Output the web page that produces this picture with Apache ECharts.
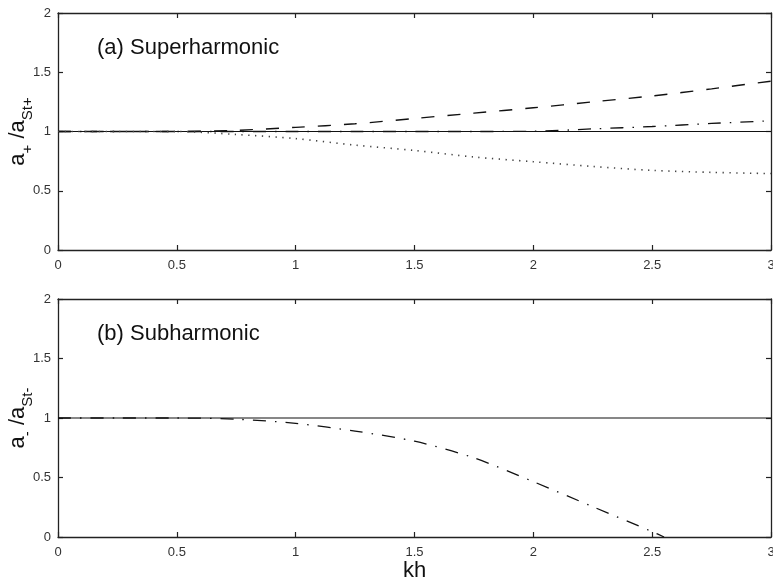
<!DOCTYPE html>
<html>
<head>
<meta charset="utf-8">
<script src="https://cdn.jsdelivr.net/npm/echarts@6/dist/echarts.min.js"></script>
<style>
  html, body { margin: 0; padding: 0; background: #fff; }
  #chart { width: 773px; height: 585px; }
</style>
</head>
<body>
<div id="chart"></div>
<script>
// kh samples, top panel
const kh = [0, 0.25, 0.5, 0.75, 1, 1.25, 1.5, 1.75, 2, 2.25, 2.5, 2.75, 3]
const superSolid = [1, 1, 1, 1, 1, 1, 1, 1, 1, 1, 1, 1, 1]
const superDashed = [1, 1, 1, 1.01, 1.035, 1.065, 1.11, 1.155, 1.2, 1.25, 1.3, 1.36, 1.425]
const superDashDot = [1, 1, 1, 1, 1, 1, 1, 1, 1.002, 1.022, 1.042, 1.068, 1.09]
const superDotted = [1, 1, 1, 0.975, 0.94, 0.885, 0.84, 0.785, 0.745, 0.705, 0.672, 0.655, 0.645]

// bottom panel
const khSub = [0, 0.25, 0.5, 0.75, 1, 1.25, 1.5, 1.75, 2, 2.25, 2.5, 2.55]
const subDashDot = [1, 1, 1, 0.99, 0.955, 0.89, 0.805, 0.665, 0.465, 0.255, 0.045, 0]
const subSolid = [1, 1]
const subSolidX = [0, 3]

const xTicks = ['0', '0.5', '1', '1.5', '2', '2.5', '3']
const yTicks = ['0', '0.5', '1', '1.5', '2']

const font = 'Liberation Sans, Arial, Helvetica, sans-serif'
const frame = '#222'

function pairs(xs, ys) {
  return xs.map((x, i) => [x, ys[i]])
}

function xAxis(gridIndex, position, showLabel, extra) {
  return Object.assign({
    type: 'value',
    gridIndex: gridIndex,
    position: position,
    min: 0,
    max: 3,
    interval: 0.5,
    axisLine: { show: true, onZero: false, lineStyle: { color: frame, width: 1.3 } },
    axisTick: { show: true, inside: true, length: 5, lineStyle: { color: frame, width: 1.2 } },
    axisLabel: {
      show: showLabel,
      margin: 9,
      color: '#333',
      fontFamily: font,
      fontSize: 13,
      formatter: v => xTicks[Math.round(v / 0.5)]
    },
    splitLine: { show: false }
  }, extra || {})
}

function yAxis(gridIndex, position, showLabel, extra) {
  return Object.assign({
    type: 'value',
    gridIndex: gridIndex,
    position: position,
    min: 0,
    max: 2,
    interval: 0.5,
    axisLine: { show: true, onZero: false, lineStyle: { color: frame, width: 1.3 } },
    axisTick: { show: true, inside: true, length: 5, lineStyle: { color: frame, width: 1.2 } },
    axisLabel: {
      show: showLabel,
      margin: 7,
      color: '#333',
      fontFamily: font,
      fontSize: 13,
      formatter: v => yTicks[Math.round(v / 0.5)]
    },
    splitLine: { show: false }
  }, extra || {})
}

// subscripts sit low inside a tall line box
const nameRich = {
  m: { fontSize: 22, fontFamily: font, color: '#111', lineHeight: 34 },
  s: { fontSize: 15, fontFamily: font, color: '#111', lineHeight: 6, verticalAlign: 'bottom' }
}

const chart = echarts.init(document.getElementById('chart'))

chart.setOption({
  animation: false,
  backgroundColor: '#fff',
  grid: [
    { left: 58, top: 13, width: 713, height: 237, containLabel: false, outerBoundsMode: 'none' },
    { left: 58, top: 299, width: 713, height: 238, containLabel: false, outerBoundsMode: 'none' }
  ],
  title: [
    { text: '(a) Superharmonic', left: 92, top: 32, textStyle: { fontFamily: font, fontSize: 22, fontWeight: 'normal', color: '#111' } },
    { text: '(b) Subharmonic', left: 92, top: 318, textStyle: { fontFamily: font, fontSize: 22, fontWeight: 'normal', color: '#111' } }
  ],
  xAxis: [
    xAxis(0, 'bottom', true),
    xAxis(0, 'top', false),
    xAxis(1, 'bottom', true, {
      name: 'kh',
      nameLocation: 'middle',
      nameGap: 23,
      nameMoveOverlap: false,
      nameTextStyle: { fontFamily: font, fontSize: 22, color: '#111' }
    }),
    xAxis(1, 'top', false)
  ],
  yAxis: [
    yAxis(0, 'left', true, {
      name: '{m|a}{s|+}{m| /a}{s|St+}',
      nameLocation: 'middle',
      nameRotate: 90,
      nameGap: 23,
      nameMoveOverlap: false,
      nameTextStyle: { rich: nameRich }
    }),
    yAxis(0, 'right', false),
    yAxis(1, 'left', true, {
      name: '{m|a}{s|-}{m| /a}{s|St-}',
      nameLocation: 'middle',
      nameRotate: 90,
      nameGap: 23,
      nameMoveOverlap: false,
      nameTextStyle: { rich: nameRich }
    }),
    yAxis(1, 'right', false)
  ],
  series: [
    {
      type: 'line', xAxisIndex: 0, yAxisIndex: 0, showSymbol: false,
      data: pairs(kh, superSolid),
      lineStyle: { color: '#111', width: 1.2 }
    },
    {
      type: 'line', xAxisIndex: 0, yAxisIndex: 0, showSymbol: false, smooth: 0.3,
      data: pairs(kh, superDashed),
      lineStyle: { color: '#111', width: 1.4, type: [13, 13] }
    },
    {
      type: 'line', xAxisIndex: 0, yAxisIndex: 0, showSymbol: false, smooth: 0.3,
      data: pairs(kh, superDashDot),
      lineStyle: { color: '#111', width: 1.3, type: [13, 9, 1.5, 9] }
    },
    {
      type: 'line', xAxisIndex: 0, yAxisIndex: 0, showSymbol: false, smooth: 0.3,
      data: pairs(kh, superDotted),
      lineStyle: { color: '#444', width: 1.6, type: [1.3, 5.5] }
    },
    {
      type: 'line', xAxisIndex: 2, yAxisIndex: 2, showSymbol: false,
      data: pairs(subSolidX, subSolid),
      lineStyle: { color: '#111', width: 1.2 }
    },
    {
      type: 'line', xAxisIndex: 2, yAxisIndex: 2, showSymbol: false, smooth: 0.3,
      data: pairs(khSub, subDashDot),
      lineStyle: { color: '#111', width: 1.3, type: [13, 9, 1.5, 9] }
    }
  ]
})
</script>
</body>
</html>
